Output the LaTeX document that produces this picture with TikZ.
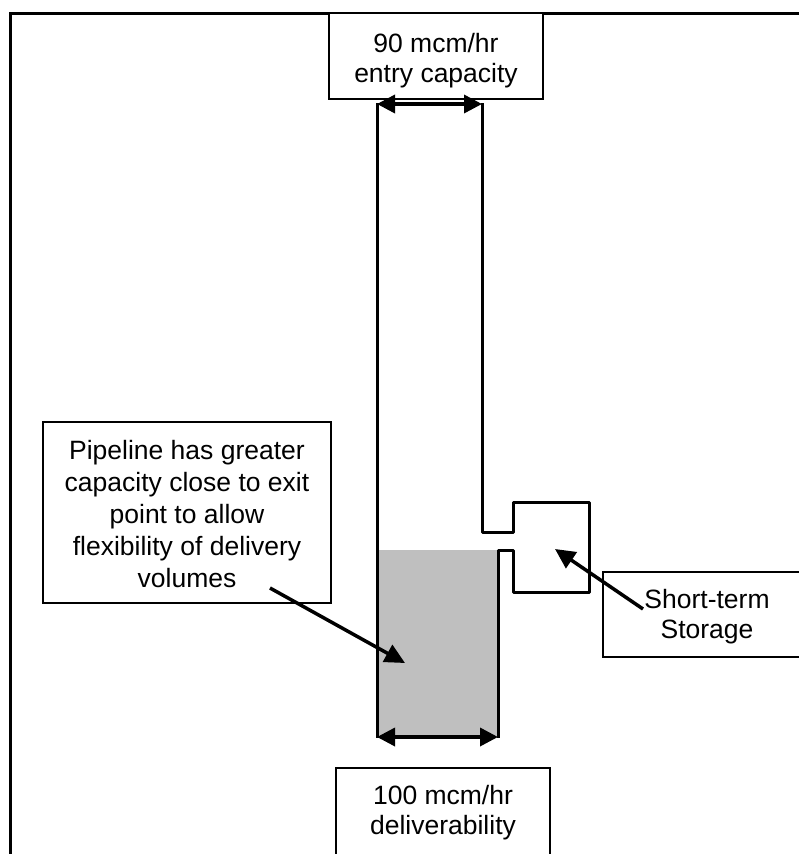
\documentclass[tikz,border=0pt]{standalone}
\usepackage{fontspec}
\setmainfont{Liberation Sans}
\usetikzlibrary{arrows.meta}
\tikzset{
  boxshape/.style={draw=black, line width=2.6pt, fill=white, rectangle, inner sep=0pt},
  txt/.style={align=center, inner sep=0pt, font=\fontsize{26.5}{30}\selectfont},
  wall/.style={draw=black, line width=3pt, line join=round},
  frameline/.style={draw=black, line width=3pt},
  dblarrow/.style={line width=3.5pt, {Triangle[length=18pt,width=18pt]}-{Triangle[length=18pt,width=18pt]}},
  pointer/.style={line width=3.5pt, -{Triangle[length=20pt,width=19pt]}},
  shade/.style={fill=black!25}
}
\begin{document}
\begin{tikzpicture}[x=1pt,y=-1pt]
\useasboundingbox (0,0) rectangle (799,854);
% outer frame (cut off at right and bottom)
\draw[frameline] (10,870) -- (10,13) -- (820,13);
% gray lower pipe fill
\fill[shade] (377,550) rectangle (498,736);
% pipeline walls and storage tank
\draw[wall] (377,103) -- (377,738);
\draw[wall] (482,103) -- (482,532) -- (513,532) -- (513,502) -- (589,502) -- (589,592) -- (513,592) -- (513,550) -- (498,550) -- (498,738);
% boxes
\node[boxshape, minimum width=214pt, minimum height=86pt] (entrybox) at (436,56) {};
\node[txt] (entrytxt) at (436,61) {90 mcm/hr\\entry capacity};
\node[boxshape, minimum width=214pt, minimum height=100pt] (delbox) at (443,818) {};
\node[txt] (deltxt) at (443,813) {100 mcm/hr\\deliverability};
\node[boxshape, minimum width=288pt, minimum height=181pt] (pipebox) at (187,512.5) {};
\node[txt, font=\fontsize{26.5}{32}\selectfont] (pipetxt) at (187,514) {Pipeline has greater\\capacity close to exit\\point to allow\\flexibility of delivery\\volumes};
\node[boxshape, minimum width=208pt, minimum height=85pt] (storebox) at (707,614.5) {};
\node[txt] (storetxt) at (707,617) {Short-term\\Storage};
% arrow coordinates
\coordinate (topL) at (377,104);
\coordinate (topR) at (482,104);
\coordinate (botL) at (377,737);
\coordinate (botR) at (498,737);
\coordinate (pipeStart) at (270,588);
\coordinate (pipeTip) at (405,663);
\coordinate (storeStart) at (643,609);
\coordinate (storeTip) at (555,549);
% arrows
\draw[dblarrow] (topL) -- (topR);
\draw[dblarrow] (botL) -- (botR);
\draw[pointer] (pipeStart) -- (pipeTip);
\draw[pointer] (storeStart) -- (storeTip);
\end{tikzpicture}
\end{document}
